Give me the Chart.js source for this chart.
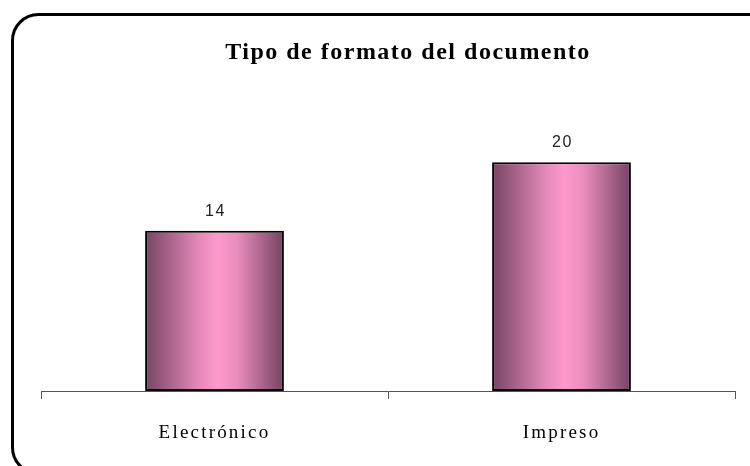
<!DOCTYPE html>
<html>
<head>
<meta charset="utf-8">
<script src="https://cdn.jsdelivr.net/npm/chart.js@4/dist/chart.umd.min.js"></script>
<style>
  html, body { margin: 0; padding: 0; background: #ffffff; }
  #wrap { width: 750px; height: 466px; position: relative; }
</style>
</head>
<body>
<div id="wrap"><canvas id="c" width="750" height="466"></canvas></div>
<script>
// Chart data
const chartTitle = 'Tipo de formato del documento';
const categories = ['Electrónico', 'Impreso'];
const counts = [14, 20];
const axisMax = 25;

// Rounded frame around the whole chart, partly running past the canvas edge
const framePlugin = {
  id: 'frame',
  beforeDraw(chart) {
    const ctx = chart.ctx;
    ctx.save();
    ctx.fillStyle = '#ffffff';
    ctx.fillRect(0, 0, chart.width, chart.height);
    ctx.strokeStyle = '#000000';
    ctx.lineWidth = 3;
    ctx.beginPath();
    ctx.roundRect(12.5, 14.5, 762, 459, 26);
    ctx.stroke();
    ctx.restore();
  }
};

// Title text in a bold serif face
const titlePlugin = {
  id: 'customTitle',
  afterDraw(chart) {
    const ctx = chart.ctx;
    ctx.save();
    ctx.font = 'bold 24px "Liberation Serif", "Times New Roman", serif';
    ctx.letterSpacing = '1.5px';
    ctx.fillStyle = '#000000';
    ctx.textAlign = 'center';
    ctx.textBaseline = 'alphabetic';
    ctx.fillText(chartTitle, 408, 59);
    ctx.restore();
  }
};

// Value label above each bar
const valueLabels = {
  id: 'valueLabels',
  afterDatasetsDraw(chart) {
    const ctx = chart.ctx;
    const meta = chart.getDatasetMeta(0);
    ctx.save();
    ctx.font = '16px "Liberation Sans", Arial, sans-serif';
    ctx.letterSpacing = '1.5px';
    ctx.fillStyle = '#222222';
    ctx.textAlign = 'center';
    ctx.textBaseline = 'alphabetic';
    meta.data.forEach((bar, i) => {
      ctx.fillText(String(counts[i]), bar.x + 1, bar.y - 15);
    });
    ctx.restore();
  }
};

// Wider letter spacing for the category labels drawn by the x axis
const tickSpacing = {
  id: 'tickSpacing',
  beforeDraw(chart) { chart.ctx.letterSpacing = '2.2px'; },
  afterDatasetsDraw(chart) { chart.ctx.letterSpacing = '0px'; }
};

function barGradient(context) {
  const chart = context.chart;
  const xs = chart.scales && chart.scales.x;
  if (!xs || !chart.chartArea) return '#ff99cc';
  const center = xs.getPixelForValue(context.dataIndex);
  const half = (xs.width / categories.length) * 0.4 / 2;
  const g = chart.ctx.createLinearGradient(center - half, 0, center + half, 0);
  g.addColorStop(0.00, '#774463');
  g.addColorStop(0.18, '#a96489');
  g.addColorStop(0.38, '#e288b8');
  g.addColorStop(0.52, '#ff99cc');
  g.addColorStop(0.66, '#e98dbd');
  g.addColorStop(0.84, '#ad668c');
  g.addColorStop(1.00, '#744261');
  return g;
}

new Chart(document.getElementById('c'), {
  type: 'bar',
  data: {
    labels: categories,
    datasets: [{
      data: counts,
      backgroundColor: barGradient,
      borderColor: '#000000',
      borderWidth: 2,
      borderSkipped: false,
      barPercentage: 0.4,
      categoryPercentage: 1.0
    }]
  },
  options: {
    responsive: false,
    animation: false,
    devicePixelRatio: 1,
    layout: { padding: { left: 41, right: 15, top: 105, bottom: -2 } },
    plugins: {
      legend: { display: false },
      title: { display: false },
      tooltip: { enabled: false }
    },
    scales: {
      x: {
        offset: true,
        grid: {
          offset: true,
          drawOnChartArea: false,
          drawTicks: true,
          tickLength: 8,
          color: '#555555',
          lineWidth: 1
        },
        border: { display: true, color: '#555555', width: 1 },
        ticks: {
          color: '#000000',
          padding: 25,
          font: { family: '"Liberation Serif", "Times New Roman", serif', size: 19, lineHeight: 1.0 }
        }
      },
      y: {
        display: false,
        min: 0,
        max: axisMax
      }
    }
  },
  plugins: [framePlugin, tickSpacing, valueLabels, titlePlugin]
});
</script>
</body>
</html>
